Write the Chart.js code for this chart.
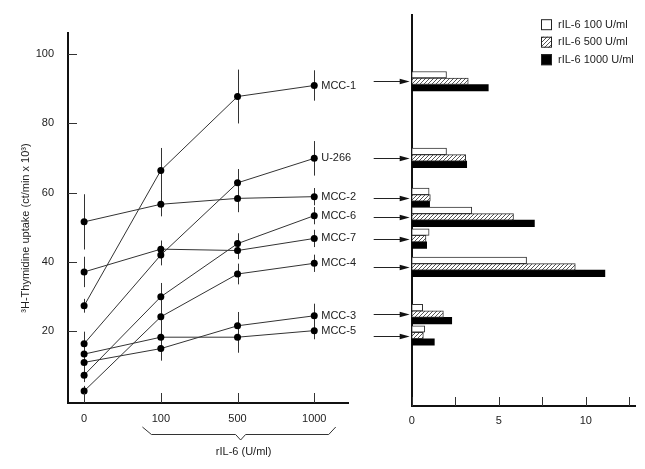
<!DOCTYPE html>
<html>
<head>
<meta charset="utf-8">
<script src="https://cdn.jsdelivr.net/npm/chart.js@4"></script>
<style>
  html, body { margin: 0; padding: 0; background: #fff; }
  #wrap { position: relative; width: 645px; height: 469px; }
  #left { position: absolute; left: 0; top: 0; }
  #right { position: absolute; left: 360px; top: 0; }
</style>
</head>
<body>
<div id="wrap">
  <canvas id="left" width="370" height="469"></canvas>
  <canvas id="right" width="285" height="469"></canvas>
</div>
<script>
// rIL-6 doses (x categories of the left panel)
const doses = ['0', '100', '500', '1000'];
const cellLines = ['MCC-1', 'U-266', 'MCC-2', 'MCC-6', 'MCC-7', 'MCC-4', 'MCC-3', 'MCC-5'];

// 3H-thymidine uptake (ct/min x 10^3), one array per cell line
const mcc1  = [27.2, 66.4, 87.8, 91.0];
const u266  = [16.2, 41.9, 62.8, 69.9];
const mcc2  = [51.5, 56.6, 58.3, 58.8];
const mcc6  = [7.1, 29.8, 45.2, 53.3];
const mcc7  = [37.0, 43.6, 43.2, 46.7];
const mcc4  = [2.5, 24.0, 36.4, 39.5];
const mcc3  = [10.8, 14.8, 21.4, 24.3];
const mcc5  = [13.2, 18.1, 18.1, 20.0];

// error bars (SD)
const mcc1Sd = [2, 6.5, 7.8, 4.4];
const u266Sd = [3.5, 3, 4, 5];
const mcc2Sd = [8, 3.5, 4, 2.5];
const mcc6Sd = [2, 4, 3, 2.5];
const mcc7Sd = [4.4, 2.5, 2.5, 2.5];
const mcc4Sd = [1.5, 3, 3, 2.5];
const mcc3Sd = [2, 3.5, 4, 3.5];
const mcc5Sd = [2, 3, 4.5, 2.5];

const uptakeTicks = [20, 40, 60, 80, 100];

// right panel: stimulation per dose, and where each group sits (uptake units)
const bar100  = [2.0, 2.0, 1.0, 3.45, 1.0, 6.6, 0.63, 0.75];
const bar500  = [3.25, 3.1, 1.07, 5.85, 0.82, 9.4, 1.82, 0.67];
const bar1000 = [4.4, 3.16, 1.03, 7.05, 0.86, 11.1, 2.3, 1.3];
const groupAt = [92.3, 70.1, 58.5, 53.0, 46.7, 38.5, 24.8, 18.6];
const rateTicks = [0, 2.5, 5, 7.5, 10, 12.5];

const font = { family: '"Liberation Sans", Arial, Helvetica, sans-serif', size: 11 };
const fontStr = '11px "Liberation Sans", Arial, Helvetica, sans-serif';
const ink = '#222';

Chart.defaults.font.family = font.family;
Chart.defaults.color = ink;

const series = [
  [mcc1, mcc1Sd], [u266, u266Sd], [mcc2, mcc2Sd], [mcc6, mcc6Sd],
  [mcc7, mcc7Sd], [mcc4, mcc4Sd], [mcc3, mcc3Sd], [mcc5, mcc5Sd]
];

// small ticks pointing into the plot
const inwardTicks = {
  id: 'inwardTicks',
  afterDraw(chart, args, opts) {
    const ctx = chart.ctx;
    ctx.save();
    ctx.strokeStyle = '#333';
    ctx.lineWidth = 1;
    Object.values(chart.scales).forEach(s => {
      const len = opts[s.id];
      if (!len) return;
      s.ticks.forEach(t => {
        const p = Math.round(s.getPixelForValue(t.value)) + 0.5;
        ctx.beginPath();
        if (s.isHorizontal()) {
          ctx.moveTo(p, s.top);
          ctx.lineTo(p, s.top - len);
        } else {
          ctx.moveTo(s.right, p);
          ctx.lineTo(s.right + len, p);
        }
        ctx.stroke();
      });
    });
    ctx.restore();
  }
};

const leftDecor = {
  id: 'leftDecor',
  beforeDatasetsDraw(chart) {
    const ctx = chart.ctx, y = chart.scales.y;
    ctx.save();
    ctx.strokeStyle = '#333';
    ctx.lineWidth = 1;
    chart.data.datasets.forEach((ds, i) => {
      chart.getDatasetMeta(i).data.forEach((pt, j) => {
        const v = ds.data[j].y, sd = ds.sd[j];
        const x = Math.round(pt.x) + 0.5;
        ctx.beginPath();
        ctx.moveTo(x, y.getPixelForValue(v - sd));
        ctx.lineTo(x, y.getPixelForValue(v + sd));
        ctx.stroke();
      });
    });
    ctx.restore();
  },
  afterDatasetsDraw(chart) {
    const ctx = chart.ctx;
    ctx.save();
    ctx.font = fontStr;
    ctx.fillStyle = ink;
    ctx.textBaseline = 'middle';
    chart.data.datasets.forEach((ds, i) => {
      const pts = chart.getDatasetMeta(i).data;
      const last = pts[pts.length - 1];
      ctx.fillText(ds.label, last.x + 7, last.y);
    });
    ctx.restore();
  },
  afterDraw(chart) {
    const ctx = chart.ctx, x = chart.scales.x;
    const b = chart.chartArea.bottom;
    const x0 = x.getPixelForValue(0.76), x1 = x.getPixelForValue(3.28);
    const xm = x.getPixelForValue(2.04);
    ctx.save();
    ctx.strokeStyle = '#333';
    ctx.lineWidth = 1;
    ctx.beginPath();
    ctx.moveTo(x0, b + 24);
    ctx.lineTo(x0 + 9, b + 31.5);
    ctx.lineTo(xm - 5, b + 31.5);
    ctx.lineTo(xm, b + 37);
    ctx.lineTo(xm + 5, b + 31.5);
    ctx.lineTo(x1 - 7, b + 31.5);
    ctx.lineTo(x1, b + 24);
    ctx.stroke();
    ctx.font = fontStr;
    ctx.fillStyle = ink;
    ctx.textAlign = 'center';
    ctx.textBaseline = 'middle';
    ctx.fillText('rIL-6 (U/ml)', xm + 3, b + 49);
    // y axis title, set a little below the middle of the axis as in the original
    ctx.translate(26, 228);
    ctx.rotate(-Math.PI / 2);
    ctx.fillText('\u00B3H-Thymidine uptake (ct/min x 10\u00B3)', 0, 0);
    ctx.restore();
  }
};

new Chart(document.getElementById('left'), {
  type: 'line',
  data: {
    datasets: series.map(([vals, sd], i) => ({
      label: cellLines[i],
      data: vals.map((v, j) => ({ x: j, y: v })),
      sd,
      borderColor: '#333',
      borderWidth: 1,
      pointRadius: 3.5,
      pointBackgroundColor: '#000',
      pointBorderWidth: 0,
      tension: 0,
      clip: false
    }))
  },
  options: {
    responsive: false,
    animation: false,
    layout: { padding: { top: 33, right: 22, left: 0, bottom: 0 } },
    plugins: {
      legend: { display: false },
      tooltip: { enabled: false },
      inwardTicks: { x: 10, y: 9 }
    },
    scales: {
      x: {
        type: 'linear',
        min: -0.21,
        max: 3.44,
        afterBuildTicks: s => { s.ticks = doses.map((d, i) => ({ value: i })); },
        afterFit: s => { s.height = 66; },
        ticks: { font, color: ink, padding: 1, callback: v => doses[v] },
        grid: { display: false },
        border: { display: true, color: '#111', width: 2 }
      },
      y: {
        min: -0.96,
        max: 106.2,
        afterBuildTicks: s => { s.ticks = uptakeTicks.map(v => ({ value: v })); },
        afterFit: s => { s.width = 68; },
        ticks: { font, color: ink, padding: 6 },
        grid: { display: false },
        border: { display: true, color: '#111', width: 2 }
      }
    }
  },
  plugins: [inwardTicks, leftDecor]
});

// right panel
const rightCanvas = document.getElementById('right');
const hatch = (() => {
  const c = document.createElement('canvas');
  c.width = 4; c.height = 4;
  const g = c.getContext('2d');
  g.fillStyle = '#fff';
  g.fillRect(0, 0, 4, 4);
  g.strokeStyle = '#555';
  g.lineWidth = 1;
  g.beginPath();
  g.moveTo(0, 4); g.lineTo(4, 0);
  g.moveTo(-1, 1); g.lineTo(1, -1);
  g.moveTo(3, 5); g.lineTo(5, 3);
  g.stroke();
  return rightCanvas.getContext('2d').createPattern(c, 'repeat');
})();

const rightDecor = {
  id: 'rightDecor',
  afterDraw(chart) {
    const ctx = chart.ctx, y = chart.scales.y;
    const left = chart.chartArea.left;
    ctx.save();
    ctx.strokeStyle = '#222';
    ctx.fillStyle = '#111';
    ctx.lineWidth = 1;
    groupAt.forEach(v => {
      const p = Math.round(y.getPixelForValue(v)) + 0.5;
      ctx.beginPath();
      ctx.moveTo(left - 38, p);
      ctx.lineTo(left - 10, p);
      ctx.stroke();
      ctx.beginPath();
      ctx.moveTo(left - 2, p);
      ctx.lineTo(left - 12, p - 2.8);
      ctx.lineTo(left - 12, p + 2.8);
      ctx.closePath();
      ctx.fill();
    });
    // legend
    ctx.font = fontStr;
    ctx.textBaseline = 'middle';
    chart.data.datasets.forEach((ds, i) => {
      const cy = 24.7 + i * 17.5;
      ctx.fillStyle = ds.backgroundColor;
      ctx.fillRect(181, cy - 5.5, 11, 11);
      ctx.strokeStyle = '#222';
      ctx.strokeRect(181.5, cy - 5, 10, 10);
      ctx.fillStyle = ink;
      ctx.fillText(ds.label, 198, cy);
    });
    ctx.restore();
  }
};

const barSet = (label, vals, fill, stroke, width) => ({
  label,
  data: vals.map((v, i) => ({ x: v, y: groupAt[i] })),
  backgroundColor: fill,
  borderColor: stroke,
  borderWidth: width,
  borderSkipped: false,
  barThickness: 6.5
});

new Chart(rightCanvas, {
  type: 'bar',
  data: {
    datasets: [
      barSet('rIL-6 100 U/ml', bar100, '#fff', '#333', 1),
      barSet('rIL-6 500 U/ml', bar500, hatch, '#333', 1),
      barSet('rIL-6 1000 U/ml', bar1000, '#000', '#000', 0)
    ]
  },
  options: {
    responsive: false,
    animation: false,
    indexAxis: 'y',
    layout: { padding: { top: 15, right: 10, left: 0, bottom: 0 } },
    plugins: {
      legend: { display: false },
      tooltip: { enabled: false },
      inwardTicks: { x: 9 }
    },
    scales: {
      x: {
        type: 'linear',
        min: 0,
        max: 12.83,
        afterBuildTicks: s => { s.ticks = rateTicks.map(v => ({ value: v })); },
        afterFit: s => { s.height = 63; },
        ticks: { font, color: ink, padding: 0, callback: v => (v % 5 === 0 ? v : '') },
        grid: { display: false },
        border: { display: true, color: '#111', width: 2 }
      },
      y: {
        type: 'linear',
        offset: false,
        min: -1.83,
        max: 111.5,
        afterFit: s => { s.width = 51.7; },
        ticks: { display: false },
        grid: { display: false },
        border: { display: true, color: '#111', width: 2 }
      }
    }
  },
  plugins: [inwardTicks, rightDecor]
});
</script>
</body>
</html>
